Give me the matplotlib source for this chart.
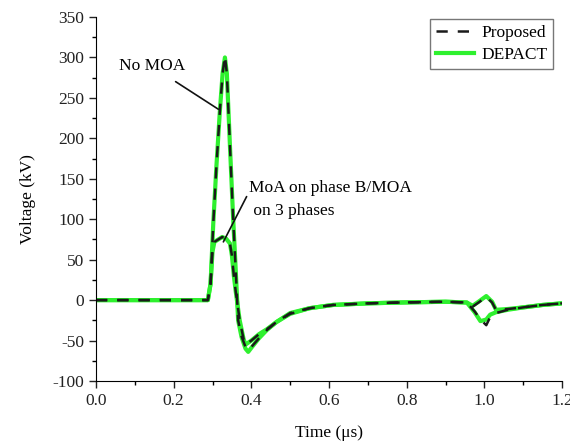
import numpy as np
import matplotlib.pyplot as plt
from matplotlib.ticker import MultipleLocator

plt.rcParams['font.family'] = ['Liberation Serif', 'DejaVu Serif']
plt.rcParams['axes.unicode_minus'] = False

# time axis (us) and voltages (kV)
t_nomoa = [0, 0.288, 0.295, 0.302, 0.31, 0.319, 0.326, 0.332, 0.337, 0.345, 0.353, 0.36,
           0.366, 0.375, 0.385, 0.392, 0.40, 0.42, 0.44, 0.465, 0.50, 0.55, 0.61, 0.70,
           0.78, 0.90, 0.955, 0.975, 0.99, 1.005, 1.015, 1.03, 1.06, 1.10, 1.15, 1.20]
v_nomoa_prop = [0, 0, 20, 95, 165, 234, 280, 302, 280, 190, 103, 35,
                -25, -45, -58, -62, -58, -47, -37, -27, -16, -10, -6, -4,
                -3, -2, -3, -14, -24, -31, -21, -16, -12, -9, -6, -4]
v_nomoa_dep = [0, 0, 20, 95, 165, 234, 280, 300, 280, 190, 103, 35,
               -25, -46, -60, -64, -59, -47, -37, -27, -16, -10, -6, -4,
               -3, -2, -3, -15, -26, -24, -18, -15, -12, -9, -6, -4]

t_moa = [0, 0.288, 0.295, 0.30, 0.305, 0.315, 0.325, 0.335, 0.345, 0.35, 0.355, 0.36,
         0.37, 0.38, 0.385, 0.40, 0.42, 0.44, 0.465, 0.50, 0.55, 0.61, 0.70, 0.78,
         0.90, 0.955, 0.97, 0.985, 1.005, 1.02, 1.03, 1.06, 1.10, 1.15, 1.20]
v_moa_prop = [0, 0, 20, 60, 72, 75, 78, 76, 70, 55, 30, 10,
              -25, -48, -55, -50, -42, -36, -27, -17, -10, -6, -4, -3,
              -2, -3, -8, -3, 4, -3, -12, -11, -9, -6, -4]
v_moa_dep = [0, 0, 20, 60, 72, 75, 78, 76, 70, 55, 30, 10,
             -25, -48, -55, -50, -42, -36, -27, -17, -10, -6, -4, -3,
             -2, -3, -7, -2, 5, -2, -12, -11, -9, -6, -4]

green = '#2ef02e'

fig = plt.figure(figsize=(5.7, 4.48), dpi=100)
ax = fig.add_axes([96/570, 1-381/448, (562-96)/570, (381-17)/448])

ax.plot(t_nomoa, v_nomoa_dep, color=green, lw=3, label='DEPACT')
ax.plot(t_moa, v_moa_dep, color=green, lw=3)
ax.plot(t_nomoa, v_nomoa_prop, color='#1a1a1a', lw=1.8, dashes=(4.5, 4), label='Proposed')
ax.plot(t_moa, v_moa_prop, color='#1a1a1a', lw=1.8, dashes=(4.5, 4))

ax.set_xlim(0, 1.2)
ax.set_ylim(-100, 350)
ax.xaxis.set_major_locator(MultipleLocator(0.2))
ax.xaxis.set_minor_locator(MultipleLocator(0.1))
ax.yaxis.set_major_locator(MultipleLocator(50))
ax.yaxis.set_minor_locator(MultipleLocator(25))
ax.xaxis.set_major_formatter(plt.FuncFormatter(lambda v, p: '%.1f' % v))
ax.spines['top'].set_visible(False)
ax.spines['right'].set_visible(False)
ax.tick_params(which='major', direction='out', length=5, width=1, labelsize=12.5, colors='#222222')
ax.tick_params(which='minor', direction='out', length=3, width=1)

ax.set_xlabel('Time (μs)', fontsize=12.5, labelpad=12)
ax.set_ylabel('Voltage (kV)', fontsize=12.5, labelpad=12)

ax.annotate('No MOA', xy=(0.315, 236), xytext=(0.144, 289), fontsize=12.5,
            ha='center', va='center',
            arrowprops=dict(arrowstyle='-', color='#111111', lw=1.2, shrinkA=6, shrinkB=0))
ax.annotate('MoA on phase B/MOA\n on 3 phases', xy=(0.328, 72), xytext=(0.395, 124),
            fontsize=12.5, ha='left', va='center', linespacing=1.6,
            arrowprops=dict(arrowstyle='-', color='#111111', lw=1.2, shrinkA=0, shrinkB=0,
                            relpos=(0, 0.72)))

h, l = ax.get_legend_handles_labels()
ax.legend([h[1], h[0]], [l[1], l[0]], loc='upper right', bbox_to_anchor=(0.985, 1.0),
          fontsize=12.5, frameon=True, fancybox=False, edgecolor='#555555',
          handlelength=2.2, handletextpad=0.4, borderpad=0.35, labelspacing=0.35,
          borderaxespad=0.1)

fig.savefig('out.png', dpi=100)
